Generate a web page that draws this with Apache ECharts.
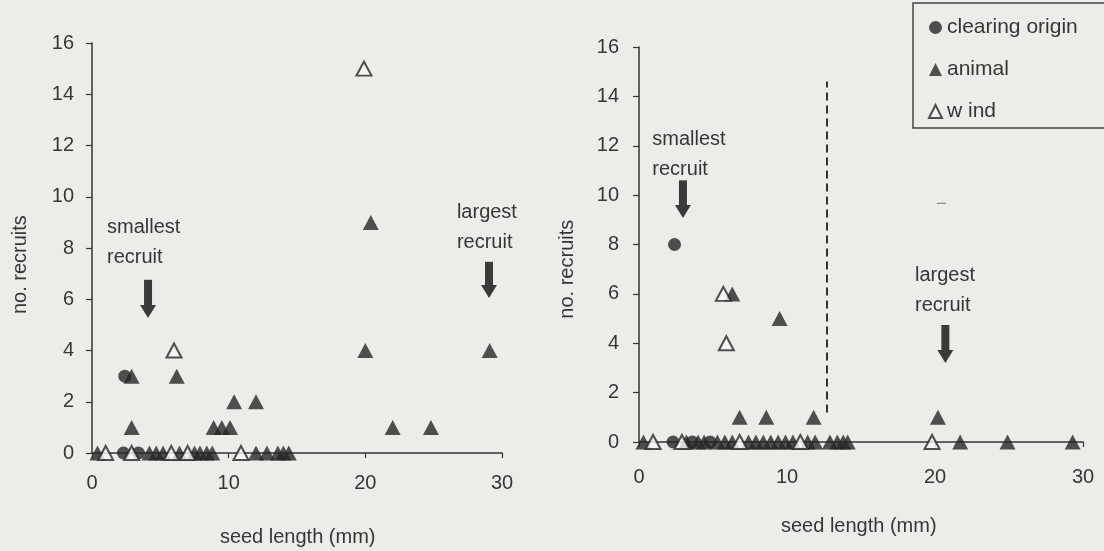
<!DOCTYPE html>
<html>
<head>
<meta charset="utf-8">
<style>
  html, body { margin: 0; padding: 0; background: #ecede8; }
  #chart { width: 1104px; height: 551px; }
</style>
<script src="https://cdn.jsdelivr.net/npm/echarts@6.0.0/dist/echarts.min.js"></script>
</head>
<body>
<div id="chart"></div>
<script>
// Recruits versus seed length, by dispersal mode; two panels.
const seriesNames = ['clearing origin', 'animal', 'wind'];
const legendLabels = ['clearing origin', 'animal', 'w ind'];

// Left panel: [seed length (mm), no. recruits]
const leftClearing = [[2.4, 3], [2.3, 0], [3.4, 0]];
const leftAnimal = [
  [2.9, 3], [6.2, 3], [2.9, 1], [8.9, 1], [9.5, 1], [10.1, 1],
  [10.4, 2], [12.0, 2], [20.0, 4], [20.4, 9], [22.0, 1], [24.8, 1], [29.1, 4],
  [0.4, 0], [4.2, 0], [4.7, 0], [5.2, 0], [6.4, 0], [7.5, 0], [7.9, 0],
  [8.4, 0], [8.8, 0], [12.0, 0], [12.8, 0], [13.6, 0], [14.0, 0], [14.4, 0]
];
const leftWind = [[6.0, 4], [19.9, 15], [1.0, 0], [2.9, 0], [5.8, 0], [7.0, 0], [10.9, 0]];

// Right panel
const rightClearing = [[2.4, 8], [2.3, 0], [3.6, 0], [4.8, 0]];
const rightAnimal = [
  [6.3, 6], [9.5, 5], [6.8, 1], [8.6, 1], [11.8, 1], [20.2, 1],
  [0.3, 0], [3.2, 0], [4.0, 0], [4.4, 0], [5.3, 0], [5.8, 0], [6.3, 0],
  [7.4, 0], [7.9, 0], [8.4, 0], [8.9, 0], [9.4, 0], [9.9, 0], [10.4, 0],
  [11.4, 0], [11.9, 0], [12.9, 0], [13.4, 0], [13.8, 0], [14.1, 0],
  [21.7, 0], [24.9, 0], [29.3, 0]
];
const rightWind = [[5.7, 6], [5.9, 4], [0.95, 0], [2.9, 0], [6.8, 0], [10.9, 0], [19.8, 0]];

// Size threshold marked by the dashed line in the right panel: [x, yFrom, yTo]
const thresholdLine = [12.7, 1.2, 14.6];

// Text notes and arrows, in data units of each panel
const notes = [
  { grid: 0, x: 1.1, y: 8.8, text: 'smallest\nrecruit' },
  { grid: 0, x: 26.7, y: 9.4, text: 'largest\nrecruit' },
  { grid: 1, x: 0.9, y: 12.27, text: 'smallest\nrecruit' },
  { grid: 1, x: 18.65, y: 6.76, text: 'largest\nrecruit' }
];
const arrows = [
  { grid: 0, x: 4.1, from: 6.76, to: 5.27 },
  { grid: 0, x: 29.05, from: 7.46, to: 6.05 },
  { grid: 1, x: 2.97, from: 10.6, to: 9.07 },
  { grid: 1, x: 20.7, from: 4.74, to: 3.2 }
];
const specks = [{ grid: 1, x: 20.4, y: 9.67 }];

const FONT = "'Liberation Sans', Arial, sans-serif";
const INK = '#262626';
const TEXT = '#363636';

const chart = echarts.init(document.getElementById('chart'), null, { renderer: 'canvas' });

function xAxisCfg(gi, labelMargin) {
  return {
    gridIndex: gi, type: 'value', min: 0, max: 30, interval: 10,
    axisLine: { show: true, onZero: false, lineStyle: { color: '#333', width: 1.5 } },
    axisTick: { show: true, inside: false, length: 5, lineStyle: { color: '#333', width: 1.2 } },
    axisLabel: { fontSize: 20, color: TEXT, fontFamily: FONT, margin: labelMargin },
    splitLine: { show: false }
  };
}
function yAxisCfg(gi, labelMargin) {
  return {
    gridIndex: gi, type: 'value', min: 0, max: 16, interval: 2,
    axisLine: { show: true, onZero: false, lineStyle: { color: '#333', width: 1.5 } },
    axisTick: { show: true, inside: false, length: 6, lineStyle: { color: '#333', width: 1.2 } },
    axisLabel: { fontSize: 20, color: TEXT, fontFamily: FONT, margin: labelMargin },
    splitLine: { show: false }
  };
}
function scatter(name, gi, data, extra) {
  const base = {
    type: 'scatter', name: name, xAxisIndex: gi, yAxisIndex: gi, data: data,
    emphasis: { disabled: true }, silent: true
  };
  if (name === 'clearing origin') {
    Object.assign(base, { symbol: 'circle', symbolSize: 13, itemStyle: { color: INK } });
  } else if (name === 'animal') {
    Object.assign(base, { symbol: 'triangle', symbolSize: [16, 15], itemStyle: { color: INK } });
  } else {
    Object.assign(base, {
      symbol: 'triangle', symbolSize: [15, 14],
      itemStyle: { color: '#f8f8f5', borderColor: INK, borderWidth: 2 }
    });
  }
  return Object.assign(base, extra || {});
}

chart.setOption({
  backgroundColor: '#ecede8',
  animation: false,
  textStyle: { fontFamily: FONT },
  grid: [
    { left: 92, top: 43, width: 410, height: 410 },
    { left: 639, top: 47, width: 444, height: 395 }
  ],
  xAxis: [xAxisCfg(0, 20), xAxisCfg(1, 25)],
  yAxis: [yAxisCfg(0, 18), yAxisCfg(1, 20)],
  legend: {
    orient: 'vertical', left: 923, top: 12, itemGap: 21,
    itemWidth: 13, itemHeight: 13,
    textStyle: { fontSize: 21, color: TEXT, fontFamily: FONT },
    data: [
      { name: 'clearing origin', icon: 'circle' },
      { name: 'animal', icon: 'triangle' },
      { name: 'wind', icon: 'triangle' }
    ],
    formatter: n => legendLabels[seriesNames.indexOf(n)],
    selectedMode: false
  },
  series: [
    scatter('clearing origin', 0, leftClearing),
    scatter('animal', 0, leftAnimal),
    scatter('wind', 0, leftWind),
    scatter('clearing origin', 1, rightClearing),
    scatter('animal', 1, rightAnimal, {
      markLine: {
        silent: true, symbol: ['none', 'none'], label: { show: false },
        lineStyle: { color: '#333', width: 2, type: [8, 5] },
        data: [[
          { coord: [thresholdLine[0], thresholdLine[1]] },
          { coord: [thresholdLine[0], thresholdLine[2]] }
        ]]
      }
    }),
    scatter('wind', 1, rightWind)
  ]
});

// Annotations placed through each panel's own scales
const graphics = [];
graphics.push({
  type: 'rect', shape: { x: 913, y: 3, width: 200, height: 125 },
  style: { fill: null, stroke: '#444', lineWidth: 1.5 }, silent: true
});
const LH = 30;
notes.forEach(n => {
  const p = chart.convertToPixel({ gridIndex: n.grid }, [n.x, n.y]);
  graphics.push({
    type: 'text', x: p[0], y: p[1] - LH / 2,
    style: {
      text: n.text, fontSize: 20, fontFamily: FONT, fill: TEXT,
      lineHeight: LH, align: 'left', verticalAlign: 'top'
    },
    silent: true
  });
});
arrows.forEach(a => {
  const top = chart.convertToPixel({ gridIndex: a.grid }, [a.x, a.from]);
  const tip = chart.convertToPixel({ gridIndex: a.grid }, [a.x, a.to]);
  const cx = top[0], headH = 13, shaftW = 8, headW = 16;
  graphics.push({
    type: 'rect',
    shape: { x: cx - shaftW / 2, y: top[1], width: shaftW, height: tip[1] - top[1] - headH + 1 },
    style: { fill: '#3a3a3a' }, silent: true
  });
  graphics.push({
    type: 'polygon',
    shape: { points: [[cx - headW / 2, tip[1] - headH], [cx + headW / 2, tip[1] - headH], [cx, tip[1]]] },
    style: { fill: '#3a3a3a' }, silent: true
  });
});
specks.forEach(s => {
  const p = chart.convertToPixel({ gridIndex: s.grid }, [s.x, s.y]);
  graphics.push({
    type: 'line', shape: { x1: p[0] - 4, y1: p[1], x2: p[0] + 5, y2: p[1] },
    style: { stroke: '#777', lineWidth: 1 }, silent: true
  });
});
// Axis titles
const axisTitles = [
  { grid: 0, at: [15.05, -3.28], text: 'seed length (mm)', rot: 0 },
  { grid: 1, at: [14.85, -3.44], text: 'seed length (mm)', rot: 0 },
  { grid: 0, at: [-5.2, 7.35], text: 'no. recruits', rot: 90 },
  { grid: 1, at: [-4.85, 7.0], text: 'no. recruits', rot: 90 }
];
axisTitles.forEach(t => {
  const p = chart.convertToPixel({ gridIndex: t.grid }, t.at);
  graphics.push({
    type: 'text', x: p[0], y: p[1], rotation: t.rot * Math.PI / 180,
    style: {
      text: t.text, fontSize: 20, fontFamily: FONT, fill: TEXT,
      align: 'center', verticalAlign: 'middle'
    },
    silent: true
  });
});
chart.setOption({ graphic: graphics });
</script>
</body>
</html>
